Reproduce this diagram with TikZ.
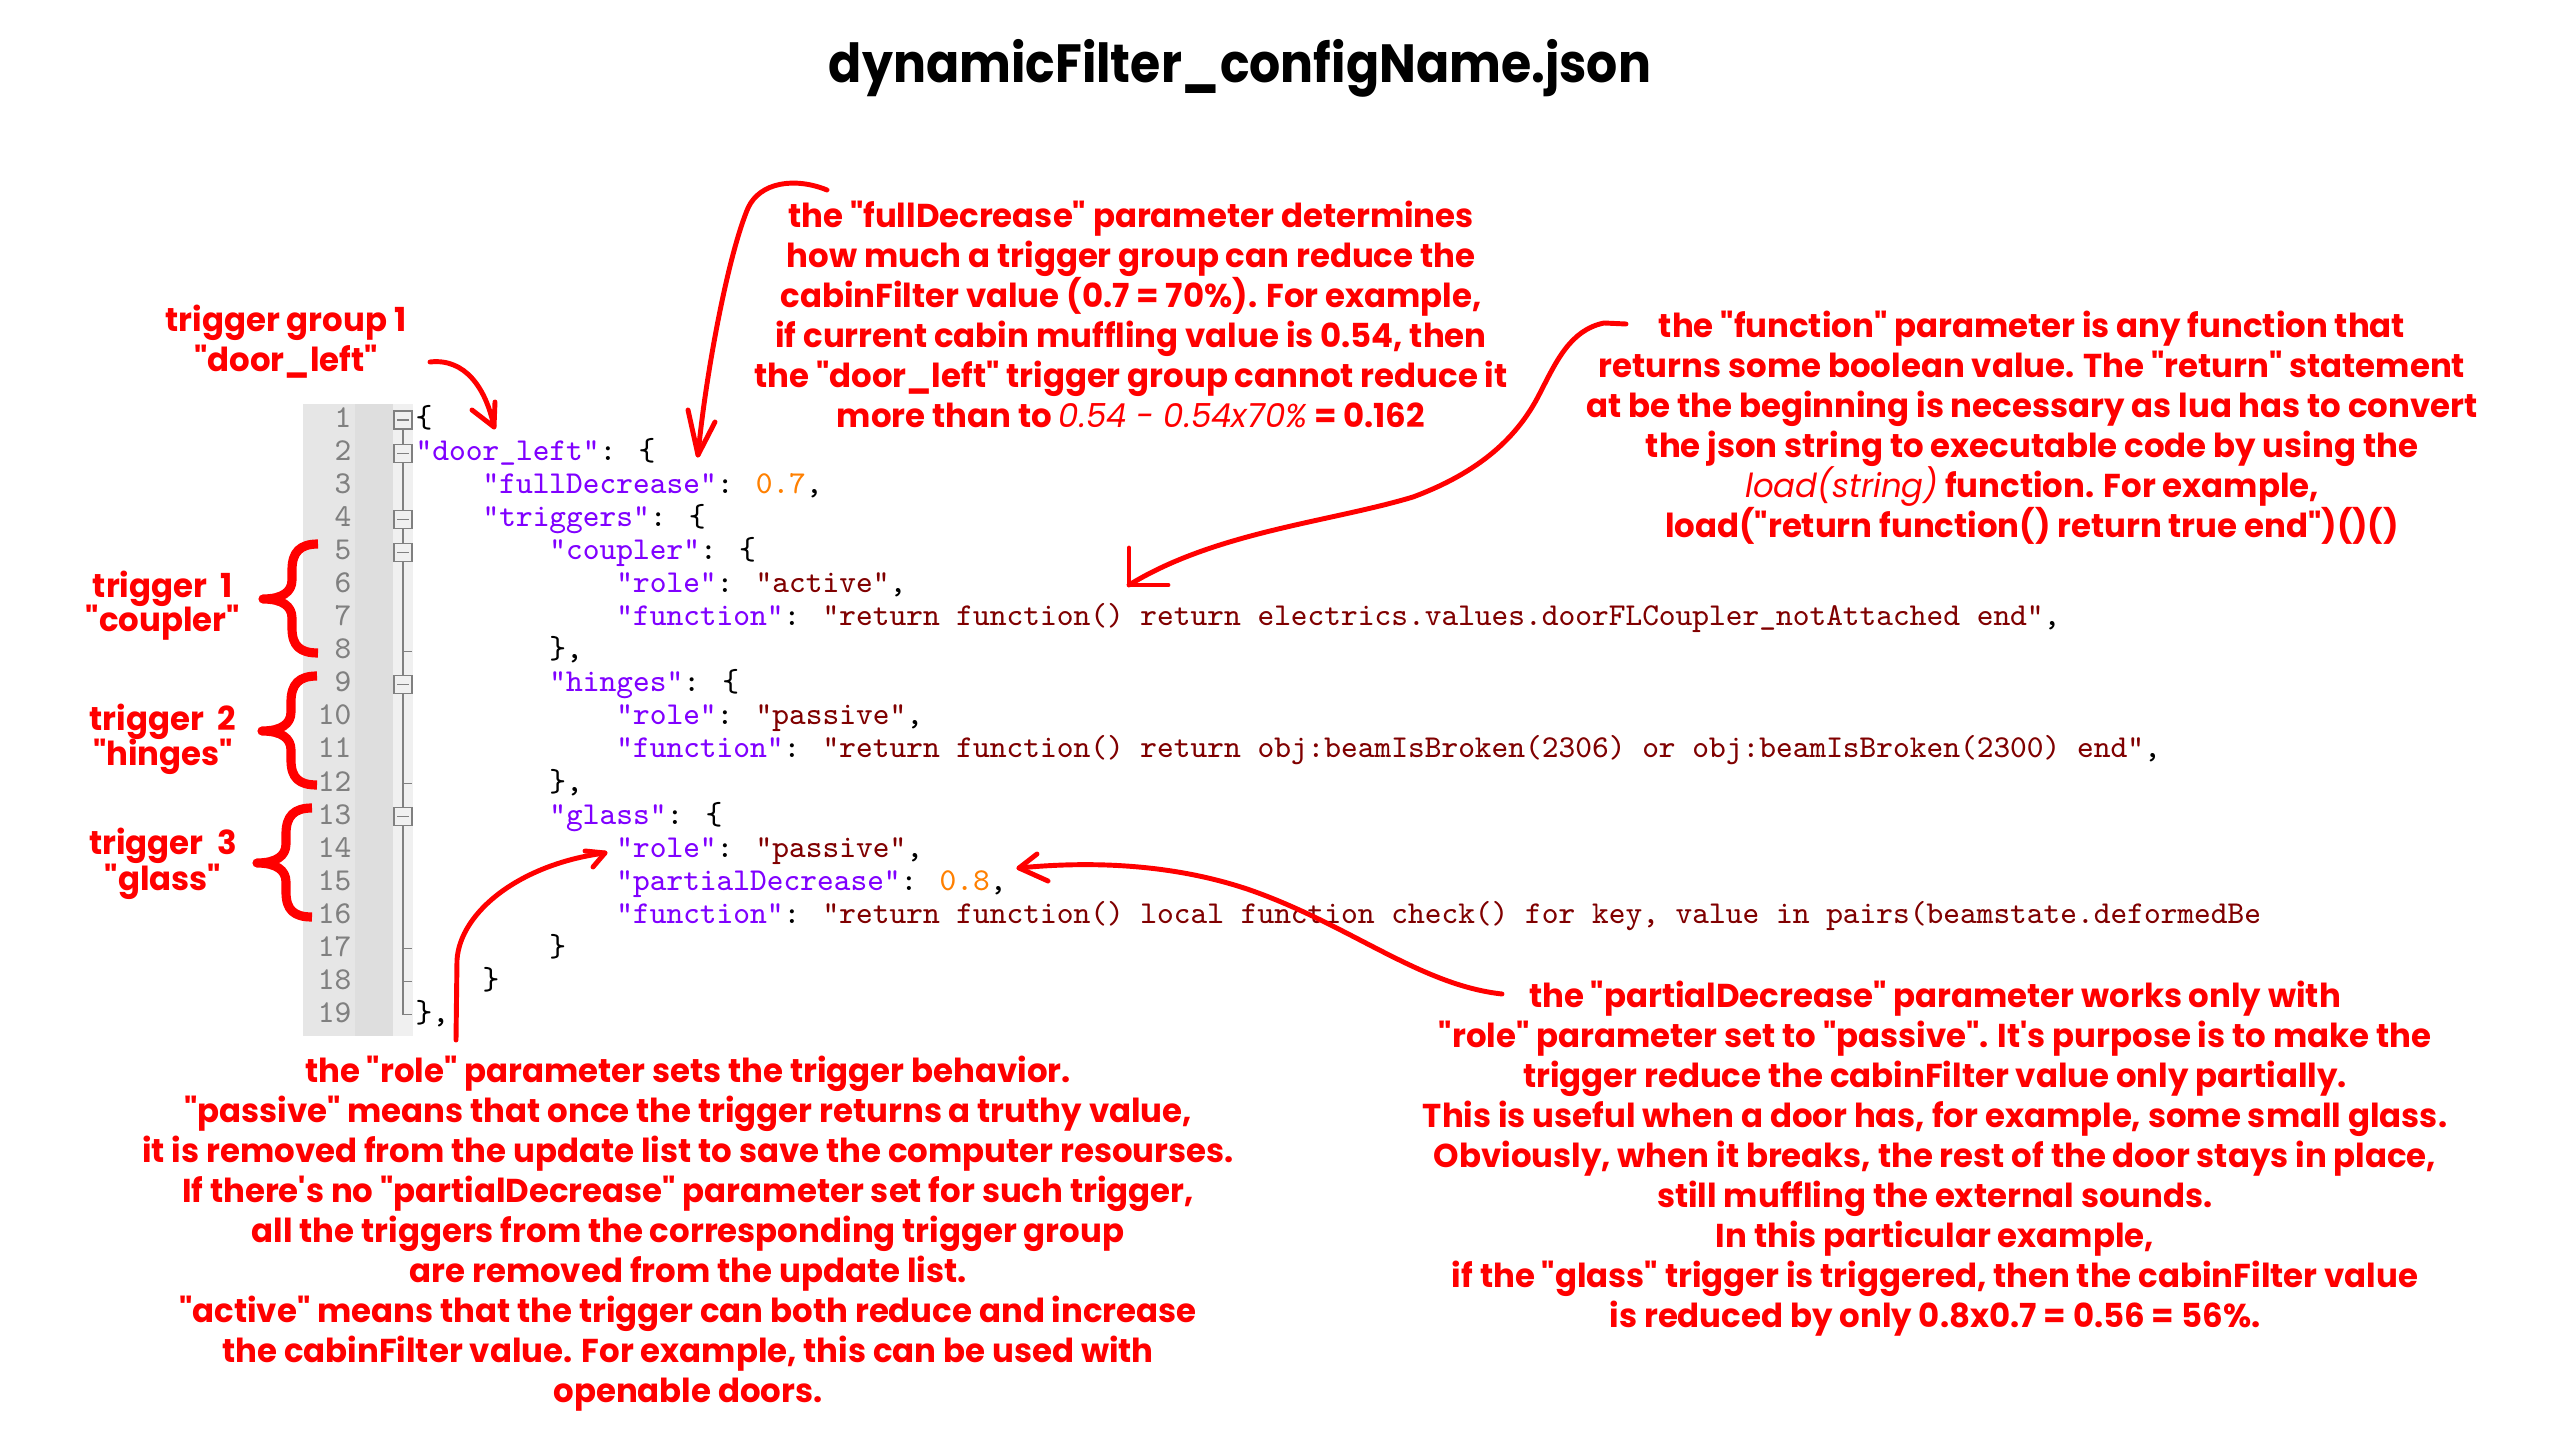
\documentclass[tikz,border=0pt]{standalone}
\usepackage{fontspec}
\newfontfamily\annfam{Poppins}[FakeStretch=0.98]
\newfontfamily\titlefam{Poppins}[FakeStretch=0.91]
\definecolor{annred}{HTML}{FF0000}
\definecolor{ckey}{HTML}{8000FF}
\definecolor{cstr}{HTML}{800000}
\definecolor{cnum}{HTML}{FF8000}
\definecolor{clnum}{HTML}{808080}
\definecolor{cgut}{HTML}{E6E6E6}
\definecolor{cgut2}{HTML}{DEDEDE}
\definecolor{cfold}{HTML}{F0F0F0}
\newcommand\jkey[1]{\textcolor{ckey}{#1}}
\newcommand\jstr[1]{\textcolor{cstr}{#1}}
\newcommand\jnum[1]{\textcolor{cnum}{#1}}
\newcommand\annfont{\annfam\fontsize{9.4pt}{11pt}\selectfont\bfseries}
\newcommand\codefont{\fontsize{9.06pt}{10pt}\selectfont\ttfamily}
\tikzset{
  annot/.style={text=annred, font=\annfont, anchor=base, inner sep=0pt},
  codeln/.style={anchor=base west, inner sep=0pt, font=\codefont},
  lnum/.style={anchor=base east, inner sep=0pt, font=\codefont, text=clnum},
  redline/.style={draw=annred, line width=1.4pt, line cap=round, line join=round},
  bracestroke/.style={draw=annred, line width=2.6pt, line cap=butt, line join=round},
  foldbox/.style={draw=clnum, fill=cfold, line width=0.3pt},
  foldline/.style={draw=clnum, line width=0.3pt}
}
\begin{document}
\begin{tikzpicture}[x=0.01cm,y=-0.01cm]
\useasboundingbox (0,0) rectangle (2560,1440);
\fill[white] (0,0) rectangle (2560,1440);

% title
\node[anchor=base, inner sep=0pt, font=\titlefam\fontsize{15.3pt}{18pt}\selectfont\bfseries] (title) at (1240,83) {dynamicFilter\_configName.json};

% editor gutter
\fill[cgut] (303,404) rectangle (355,1036);
\fill[cgut2] (355,404) rectangle (393,1036);
\fill[cfold] (393,404) rectangle (413,1036);
\foreach \i in {1,...,19}
  \node[lnum] (n\i) at (352, {427.5+(\i-1)*33.05}) {\i};
\draw[foldline] (403,420) -- (403,{420+18*33.05}) -- (412,{420+18*33.05});
\foreach \i in {8,12,17,18}
  \draw[foldline] (403,{420+(\i-1)*33.05}) -- (412,{420+(\i-1)*33.05});
\foreach \i in {1,2,4,5,9,13} {
  \draw[foldbox] (394,{420+(\i-1)*33.05-9}) rectangle (412,{420+(\i-1)*33.05+9});
  \draw[foldline] (397,{420+(\i-1)*33.05}) -- (409,{420+(\i-1)*33.05});
}

% code lines
\foreach \col/\txt [count=\i] in {
  0/{\{},
  0/{\jkey{"door\_left"}: \{},
  4/{\jkey{"fullDecrease"}: \jnum{0.7},},
  4/{\jkey{"triggers"}: \{},
  8/{\jkey{"coupler"}: \{},
  12/{\jkey{"role"}: \jstr{"active"},},
  12/{\jkey{"function"}: \jstr{"return function() return electrics.values.doorFLCoupler\_notAttached end"},},
  8/{\},},
  8/{\jkey{"hinges"}: \{},
  12/{\jkey{"role"}: \jstr{"passive"},},
  12/{\jkey{"function"}: \jstr{"return function() return obj:beamIsBroken(2306) or obj:beamIsBroken(2300) end"},},
  8/{\},},
  8/{\jkey{"glass"}: \{},
  12/{\jkey{"role"}: \jstr{"passive"},},
  12/{\jkey{"partialDecrease"}: \jnum{0.8},},
  12/{\jkey{"function"}: \jstr{"return function() local function check() for key, value in pairs(beamstate.deformedBe}},
  8/{\}},
  4/{\}},
  0/{\},}}
  \node[codeln] (c\i) at ({415+\col*16.72}, {427.5+(\i-1)*33.05}) {\txt};

% annotation: trigger group label
\node[annot] (tg1) at (286,332) {trigger group 1};
\node[annot] (tg2) at (286,372) {"door\_left"};

% trigger labels
\node[annot] (ta1) at (163,598) {trigger\ \ 1};
\node[annot] (ta2) at (163,632) {"coupler"};
\node[annot] (tb1) at (163,731) {trigger\ \ 2};
\node[annot] (tb2) at (163,766) {"hinges"};
\node[annot] (tc1) at (163,855) {trigger\ \ 3};
\node[annot] (tc2) at (163,890) {"glass"};

% fullDecrease block
\foreach \t [count=\i] in {
  {the "fullDecrease" parameter determines},
  {how much a trigger group can reduce the},
  {cabinFilter value (0.7 = 70\%). For example,},
  {if current cabin muffling value is 0.54, then},
  {the "door\_left" trigger group cannot reduce it},
  {more than to {\mdseries\itshape 0.54 - 0.54x70\%} = 0.162}}
  \node[annot] (fd\i) at (1131, {228+(\i-1)*40}) {\t};

% function block
\foreach \t [count=\i] in {
  {the "function" parameter is any function that},
  {returns some boolean value. The "return" statement},
  {at be the beginning is necessary as lua has to convert},
  {the json string to executable code by using the},
  {{\mdseries\itshape load(string)} function. For example,},
  {load("return function() return true end")()()}}
  \node[annot] (fn\i) at (2032, {338+(\i-1)*40}) {\t};

% role block
\foreach \t [count=\i] in {
  {the "role" parameter sets the trigger behavior.},
  {"passive" means that once the trigger returns a truthy value,},
  {it is removed from the update list to save the computer resourses.},
  {If there's no "partialDecrease" parameter set for such trigger,},
  {all the triggers from the corresponding trigger group},
  {are removed from the update list.},
  {"active" means that the trigger can both reduce and increase},
  {the cabinFilter value. For example, this can be used with},
  {openable doors.}}
  \node[annot] (ro\i) at (688, {1082+(\i-1)*40}) {\t};

% partialDecrease block
\foreach \t [count=\i] in {
  {the "partialDecrease" parameter works only with},
  {"role" parameter set to "passive". It's purpose is to make the},
  {trigger reduce the cabinFilter value only partially.},
  {This is useful when a door has, for example, some small glass.},
  {Obviously, when it breaks, the rest of the door stays in place,},
  {still muffling the external sounds.},
  {In this particular example,},
  {if the "glass" trigger is triggered, then the cabinFilter value},
  {is reduced by only 0.8x0.7 = 0.56 = 56\%.}}
  \node[annot] (pd\i) at (1935, {1007+(\i-1)*40}) {\t};

% braces
\draw[bracestroke] (318,544) .. controls (300,544) and (292,552) .. (292,570) -- (292,580)
  .. controls (292,592) and (282,599) .. (263,599) .. controls (282,599) and (292,606) .. (292,618)
  -- (292,628) .. controls (292,646) and (300,653) .. (318,653);
\draw[bracestroke] (317,676) .. controls (299,676) and (291,684) .. (291,702) -- (291,712)
  .. controls (291,724) and (281,731) .. (262,731) .. controls (281,731) and (291,738) .. (291,750)
  -- (291,760) .. controls (291,778) and (299,785) .. (317,785);
\draw[bracestroke] (312,808) .. controls (294,808) and (286,816) .. (286,834) -- (286,844)
  .. controls (286,856) and (276,863) .. (257,863) .. controls (276,863) and (286,870) .. (286,882)
  -- (286,892) .. controls (286,910) and (294,917) .. (312,917);

% arrows
\coordinate (dlS) at (430,362);
\coordinate (dlE) at (494,427);
\draw[redline] (dlS) .. controls (465,358) and (486,388) .. (dlE);
\draw[redline] (472,410) -- (dlE) -- (495,402);

\coordinate (fdS) at (827,190);
\coordinate (fdE) at (698,455);
\draw[redline] (fdS) .. controls (795,177) and (760,182) .. (748,208) .. controls (727,258) and (705,380) .. (fdE);
\draw[redline] (688,410) -- (fdE) -- (715,422);

\coordinate (fnS) at (1626,324);
\coordinate (fnE) at (1129,585);
\draw[redline] (fnS) -- (1604,323) .. controls (1570,330) and (1556,362) .. (1540,393)
  .. controls (1518,437) and (1480,472) .. (1413,497) .. controls (1330,522) and (1215,532) .. (fnE);
\draw[redline] (1129,548) -- (fnE) -- (1168,585);

\coordinate (roS) at (456,1040);
\coordinate (roE) at (605,853);
\draw[redline] (roS) -- (457,960) .. controls (460,912) and (520,864) .. (roE);
\draw[redline] (585,851) -- (roE) -- (593,867);

\coordinate (pdS) at (1502,994);
\coordinate (pdE) at (1019,868);
\draw[redline] (pdS) .. controls (1420,985) and (1350,925) .. (1250,890) .. controls (1180,866) and (1100,860) .. (pdE);
\draw[redline] (1037,854) -- (pdE) -- (1048,881);
\end{tikzpicture}
\end{document}
